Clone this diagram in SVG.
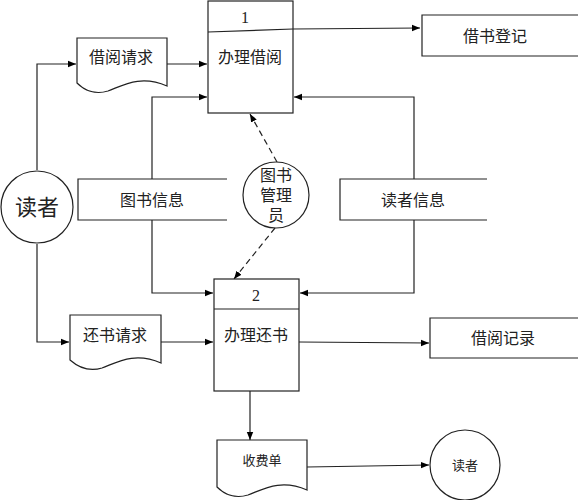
<svg xmlns="http://www.w3.org/2000/svg" width="578" height="500" viewBox="0 0 578 500">
<defs>
<marker id="ah" viewBox="0 0 10 10" refX="10" refY="5" markerWidth="8" markerHeight="8" markerUnits="userSpaceOnUse" orient="auto">
<path d="M0,1 L10,5 L0,9 z" fill="#000"/>
</marker>
</defs>
<style>
.s{fill:#fff;stroke:#222;stroke-width:1.2}
.o{fill:none;stroke:#222;stroke-width:1.2}
.c{fill:none;stroke:#222;stroke-width:1.2;marker-end:url(#ah)}
.d{stroke-dasharray:6,4}
text{font-family:"Liberation Serif","Noto Sans CJK SC",serif;fill:#222;text-anchor:middle;dominant-baseline:central}
.t16{font-size:16px}
.t13{font-size:13px}
</style>
<rect width="578" height="500" fill="#fff"/>
<g id="connectors">
<path class="c" d="M293,29 L420,28"/>
<path class="c" d="M167,64 L207,64"/>
<path class="c" d="M37,170 L37,64 L76,64"/>
<path class="c" d="M37,244 L37,342 L69,342"/>
<path class="c" d="M152,179 L152,97 L207,97"/>
<path class="c" d="M152,220 L152,293 L213,293"/>
<path class="c" d="M414,179 L414,97 L294,97"/>
<path class="c" d="M414,220 L414,293 L300,293"/>
<path class="c" d="M161,342 L213,342"/>
<path class="c" d="M299,342 L429,343"/>
<path class="c" d="M250,391 L250,440"/>
<path class="c" d="M307,467 L429,465"/>
<path class="c d" d="M277,162 L250,114"/>
<path class="c d" d="M275,228 L234,279"/>
</g>
<g id="p1">
<rect class="s" x="208" y="1" width="85" height="112"/>
<path class="o" d="M208,32 L293,29"/>
<text class="t16" x="245" y="17">1</text>
<text class="t16" x="250" y="57">办理借阅</text>
</g>
<g id="p2">
<rect class="s" x="214" y="279" width="85" height="112"/>
<path class="o" d="M214,309 L299,309"/>
<text class="t16" x="256" y="295">2</text>
<text class="t16" x="256" y="335">办理还书</text>
</g>
<g id="jieshudengji">
<path class="o" d="M578,15 L422,15 L422,56 L578,56"/>
<text class="t16" x="495" y="36">借书登记</text>
</g>
<g id="jieyuejilu">
<path class="o" d="M578,318 L430,318 L430,358 L578,358"/>
<text class="t16" x="503" y="338">借阅记录</text>
</g>
<g id="tushuxinxi">
<path class="o" d="M227,179 L78,179 L78,220 L227,220"/>
<text class="t16" x="152" y="200">图书信息</text>
</g>
<g id="duzhexinxi">
<path class="o" d="M487,179 L340,179 L340,220 L487,220"/>
<text class="t16" x="413" y="200">读者信息</text>
</g>
<g id="jieyueqingqiu">
<path class="s" d="M77,38 L167,38 L167,86 C140,74 122,86 108,91 C95,95 84,90 77,83 Z"/>
<text class="t16" x="121" y="57">借阅请求</text>
</g>
<g id="huanshuqingqiu">
<path class="s" d="M70,315 L161,315 L161,363 C134,351 116,363 102,368 C89,372 78,367 70,360 Z"/>
<text class="t16" x="115" y="335">还书请求</text>
</g>
<g id="shoufeidan">
<path class="s" d="M217,440 L307,440 L307,490 C280,478 262,490 248,495 C235,499 224,494 217,487 Z"/>
<text class="t13" x="262" y="460">收费单</text>
</g>
<g id="duzhe1">
<circle class="s" cx="37" cy="207" r="36"/>
<text x="37" y="207" font-size="22">读者</text>
</g>
<g id="guanliyuan">
<circle class="s" cx="276" cy="195" r="33"/>
<text class="t16" x="276" y="175">图书</text>
<text class="t16" x="276" y="195">管理</text>
<text class="t16" x="276" y="215">员</text>
</g>
<g id="duzhe2">
<circle class="s" cx="465" cy="465" r="35"/>
<text class="t13" x="465" y="465">读者</text>
</g>
</svg>
